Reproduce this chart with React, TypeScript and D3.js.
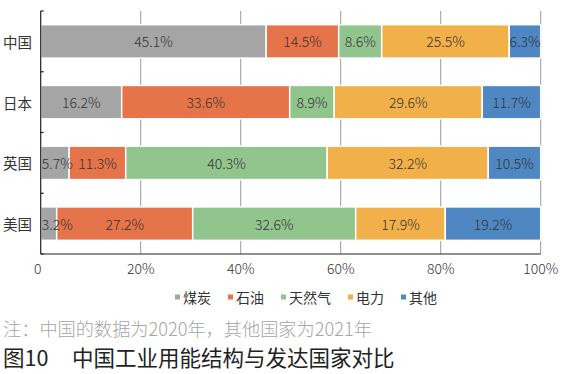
import * as d3 from "d3";
import React from "react";

const countries = ["中国", "日本", "英国", "美国"];
const sources = ["煤炭", "石油", "天然气", "电力", "其他"];
const coal = [45.1, 16.2, 5.7, 3.2];
const oil = [14.5, 33.6, 11.3, 27.2];
const gas = [8.6, 8.9, 40.3, 32.6];
const power = [25.5, 29.6, 32.2, 17.9];
const other = [6.3, 11.7, 10.5, 19.2];
const xTicks = [0, 20, 40, 60, 80, 100];
const colors = ["#a5a5a5", "#e5744a", "#92c48e", "#f2b04a", "#4e87c2"];

const note = "注：中国的数据为2020年，其他国家为2021年";
const titleNo = "图10";
const title = "中国工业用能结构与发达国家对比";

const FONT = "'Noto Sans CJK SC', 'Noto Sans', sans-serif";

export default function App() {
  const width = 570;
  const height = 374;
  const plot = { left: 40.7, right: 540.7, top: 11, bottom: 254 };

  const rows = countries.map((c, i) => ({
    country: c,
    煤炭: coal[i],
    石油: oil[i],
    天然气: gas[i],
    电力: power[i],
    其他: other[i],
  }));

  const stack = d3.stack<any>().keys(sources);
  const series = stack(rows);

  const x = d3.scaleLinear().domain([0, 100]).range([plot.left, plot.right]);
  const y = d3
    .scaleBand()
    .domain(countries)
    .range([plot.top, plot.bottom])
    .paddingInner(0.45)
    .paddingOuter(0.225);
  const step = y.step();
  const color = d3.scaleOrdinal<string>().domain(sources).range(colors);

  // legend layout
  const legendFont = 14;
  let lx = 175;
  const legendItems = sources.map((s) => {
    const item = { s, x: lx };
    lx += 5 + 3 + s.length * legendFont + 17;
    return item;
  });

  return (
    <svg
      width={width}
      height={height}
      style={{ position: "absolute", left: 0, top: 0, background: "#fff" }}
      fontFamily={FONT}
    >
      <rect width={width} height={height} fill="#fff" />

      {/* vertical gridlines */}
      {xTicks.slice(1).map((t) => (
        <line
          key={`grid-${t}`}
          x1={x(t)}
          x2={x(t)}
          y1={plot.top}
          y2={plot.bottom}
          stroke="#9a9a9a"
          strokeWidth={1}
        />
      ))}

      {/* bars */}
      {series.map((s, si) => (
        <g key={s.key} fill={color(s.key)}>
          {s.map((d, i) => (
            <rect
              key={`bar-${si}-${i}`}
              x={x(d[0])}
              y={y(countries[i])}
              width={Math.max(0, x(Math.min(d[1], 100)) - x(d[0]))}
              height={y.bandwidth()}
              stroke="#fff"
              strokeWidth={1.5}
            />
          ))}
        </g>
      ))}

      {/* bar labels */}
      {series.map((s, si) =>
        s.map((d, i) => {
          const v = d[1] - d[0];
          const cx = Math.max((x(d[0]) + x(Math.min(d[1], 100))) / 2, plot.left + 16.5);
          return (
            <text
              key={`lbl-${si}-${i}`}
              x={cx}
              y={(y(countries[i]) || 0) + y.bandwidth() / 2}
              textAnchor="middle"
              dominantBaseline="central"
              fontSize={14}
              fontWeight={300}
              fill="#333"
            >
              {`${v.toFixed(1)}%`}
            </text>
          );
        })
      )}

      {/* left axis */}
      <line x1={plot.left} x2={plot.left} y1={plot.top} y2={plot.bottom} stroke="#222" strokeWidth={1.2} />
      {d3.range(countries.length + 1).map((i) => (
        <line
          key={`ytick-${i}`}
          x1={plot.left}
          x2={plot.left + 3}
          y1={plot.top + i * step}
          y2={plot.top + i * step}
          stroke="#222"
          strokeWidth={1.2}
        />
      ))}
      {countries.map((c) => (
        <text
          key={`cat-${c}`}
          x={32}
          y={(y(c) || 0) + y.bandwidth() / 2}
          textAnchor="end"
          dominantBaseline="central"
          fontSize={14.5}
          fill="#333"
        >
          {c}
        </text>
      ))}

      {/* bottom axis */}
      <line x1={plot.left} x2={plot.right} y1={plot.bottom} y2={plot.bottom} stroke="#222" strokeWidth={1.2} />
      {xTicks.map((t) => (
        <text
          key={`xt-${t}`}
          x={t === 0 ? x(t) - 3 : x(t)}
          y={268}
          textAnchor="middle"
          dominantBaseline="central"
          fontSize={14}
          fontWeight={300}
          fill="#333"
        >
          {t === 0 ? "0" : `${t}%`}
        </text>
      ))}

      {/* legend */}
      {legendItems.map(({ s, x: ix }) => (
        <g key={`leg-${s}`}>
          <rect x={ix} y={294.5} width={5} height={5} fill={color(s)} />
          <text
            x={ix + 8}
            y={297}
            dominantBaseline="central"
            fontSize={legendFont}
            fill="#333"
          >
            {s}
          </text>
        </g>
      ))}

      {/* note and title */}
      <text x={3} y={336} fontSize={18.2} fontWeight={300} fill="#a6a6a6">
        {note}
      </text>
      <text x={3} y={366} fontSize={21.5} fill="#222">
        {titleNo}
      </text>
      <text x={72} y={366} fontSize={21.5} fill="#222">
        {title}
      </text>
    </svg>
  );
}
